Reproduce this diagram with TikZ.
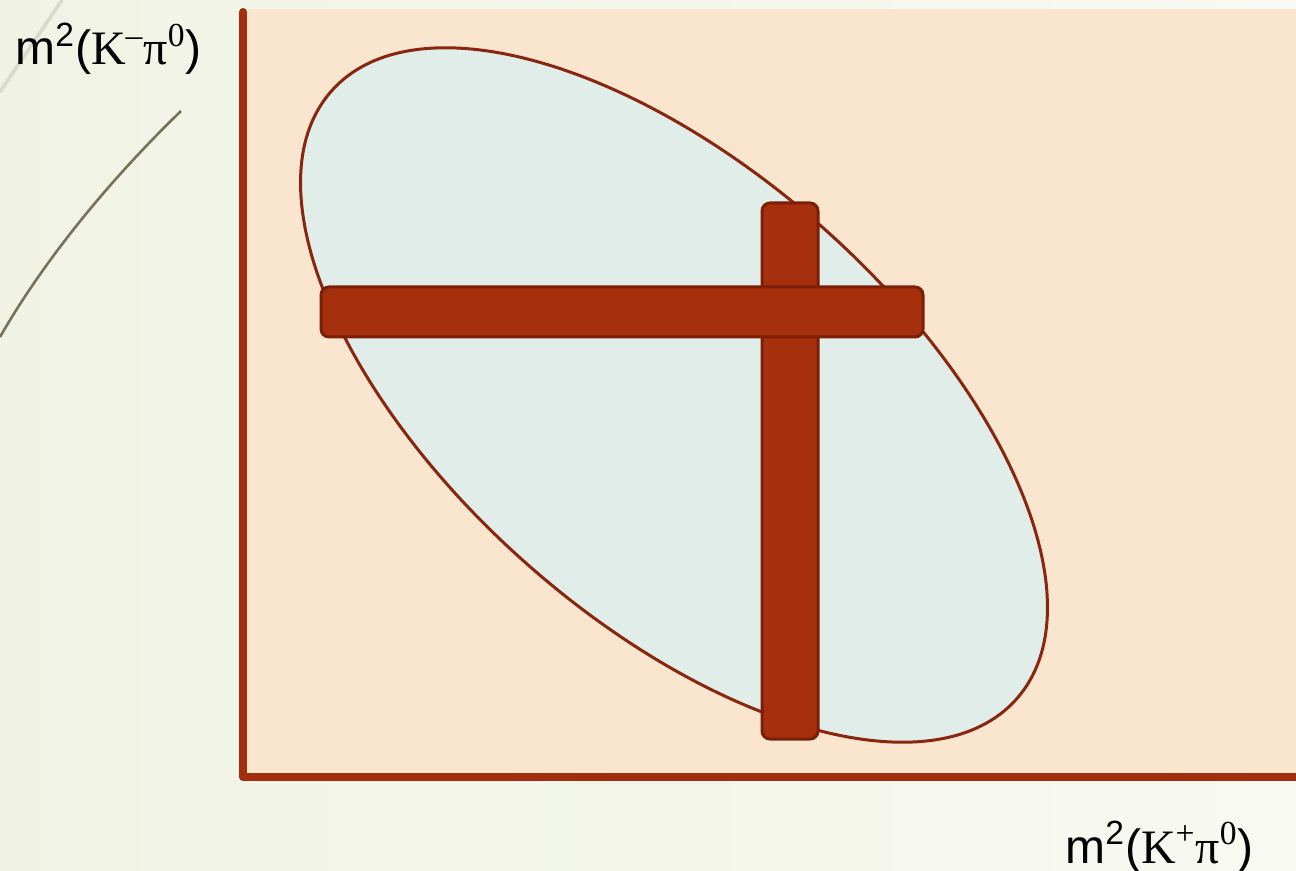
\documentclass[tikz,border=0pt]{standalone}
\usepackage{fontspec}
\setmainfont{Liberation Serif}
\newfontfamily\labsans{Liberation Sans}
\usepackage{tikz}
\usetikzlibrary{positioning,shapes.geometric}
\definecolor{dpPaper}{HTML}{F8F9F2}
\definecolor{dpPaperL}{HTML}{F0F3E4}
\definecolor{dpPeach}{HTML}{FAE5CF}
\definecolor{dpRust}{HTML}{A32E0F}
\definecolor{dpBar}{HTML}{A62F0E}
\definecolor{dpBarEdge}{HTML}{7B1F09}
\definecolor{dpMint}{HTML}{E0EDE8}
\definecolor{dpEdge}{HTML}{8A2510}
\definecolor{dpStroke}{HTML}{77715A}
\definecolor{dpFaint}{HTML}{D8DACB}

\begin{document}
\begin{tikzpicture}[
    x=0.5pt, y=-0.5pt,
    bar/.style={draw=dpBarEdge, fill=dpBar, line width=1.5pt, rounded corners=4pt,
                inner sep=0pt},
    lab/.style={anchor=base west, inner sep=0pt, font=\fontsize{24}{28}\selectfont},
  ]
  % background
  \fill[left color=dpPaperL, right color=dpPaper] (0,0) rectangle (1296,871);
  \useasboundingbox (0,0) rectangle (1296,871);
  \draw[dpFaint, line width=1.8pt] (62,0) -- (0,92);
  \draw[dpStroke, line width=1.3pt] (181,111) .. controls (120,170) and (50,250) .. (0,337);
  % plot area
  \fill[dpPeach] (247,9) rectangle (1296,773);
  \draw[dpRust, line width=4pt, line cap=round, line join=round]
        (243,12) -- (243,777) -- (1300,777);
  % allowed region
  \node[ellipse, draw=dpEdge, fill=dpMint, line width=1.5pt, inner sep=0pt,
        minimum width=458pt, minimum height=224pt, rotate=-41.6] (region) at (674,395) {};
  % bands
  \node[bar, minimum width=28pt, minimum height=268pt]  (vbar) at (790,471) {};
  \node[bar, minimum width=301pt, minimum height=25pt]  (hbar) at (622,312) {};
  % axis labels
  \node[lab] (ylab) at (15,65)
        {{\labsans m\textsuperscript{2}(}K\textsuperscript{–}π\textsuperscript{0}{\labsans )}};
  \node[lab] (xlab) at (1065,863)
        {{\labsans m\textsuperscript{2}(}K\textsuperscript{+}π\textsuperscript{0}{\labsans )}};
\end{tikzpicture}
\end{document}
